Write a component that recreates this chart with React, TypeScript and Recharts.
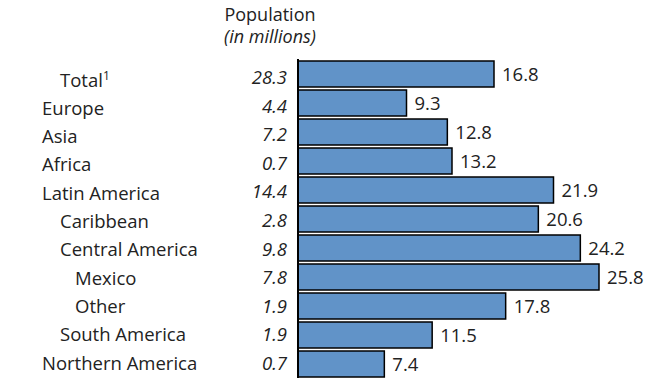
import React from 'react';
import { BarChart, Bar, XAxis, YAxis, LabelList } from 'recharts';

const categories = ['Total', 'Europe', 'Asia', 'Africa', 'Latin America', 'Caribbean', 'Central America', 'Mexico', 'Other', 'South America', 'Northern America'];
const indentLevels = [1, 0, 0, 0, 0, 1, 1, 2, 2, 1, 0];
const population = [28.3, 4.4, 7.2, 0.7, 14.4, 2.8, 9.8, 7.8, 1.9, 1.9, 0.7];
const shares = [16.8, 9.3, 12.8, 13.2, 21.9, 20.6, 24.2, 25.8, 17.8, 11.5, 7.4];

const data = categories.map((name, i) => ({ name, level: indentLevels[i], pop: population[i], share: shares[i] }));

const FONT = 'Open Sans';
const FS = 18.5;
const indentX = [42, 60, 75];

const Tick = (props: any) => {
  const { y, index } = props;
  const d = data[index];
  const dyName = 13 - 0.7 * index;
  const dyVal = 10.5 - 0.4 * index;
  return (
    <g>
      <text x={indentX[d.level]} y={y} dy={dyName} fontFamily={FONT} fontSize={FS} fill="#222">
        {d.name}
        {index === 0 ? <tspan fontSize={12} dy={-7}>1</tspan> : null}
      </text>
      <text x={287} y={y} dy={dyVal} textAnchor="end" fontFamily={FONT} fontStyle="italic" fontSize={FS} fill="#222">
        {d.pop.toFixed(1)}
      </text>
    </g>
  );
};

export default function App() {
  return (
    <div style={{ position: 'absolute', left: 0, top: 0, width: 659, height: 383, background: '#fff' }}>
      <BarChart width={659} height={383} data={data} layout="vertical" margin={{ top: 59, right: 11, bottom: 5, left: 0 }}>
        <text x={270} y={21} textAnchor="middle" fontFamily={FONT} fontSize={18} fill="#222">Population</text>
        <text x={270} y={43} textAnchor="middle" fontFamily={FONT} fontStyle="italic" fontSize={18} fill="#222">(in millions)</text>
        <XAxis type="number" domain={[0, 30]} hide />
        <YAxis type="category" dataKey="name" width={298} axisLine={{ stroke: '#000', strokeWidth: 2 }} tickLine={false} tick={<Tick />} interval={0} />
        <Bar dataKey="share" fill="#6193C8" stroke="#000" strokeWidth={1.5} barSize={26} isAnimationActive={false}>
          <LabelList dataKey="share" position="right" offset={8} fontFamily={FONT} fontSize={FS} fill="#222" formatter={(v: any) => Number(v).toFixed(1)} />
        </Bar>
      </BarChart>
    </div>
  );
}
